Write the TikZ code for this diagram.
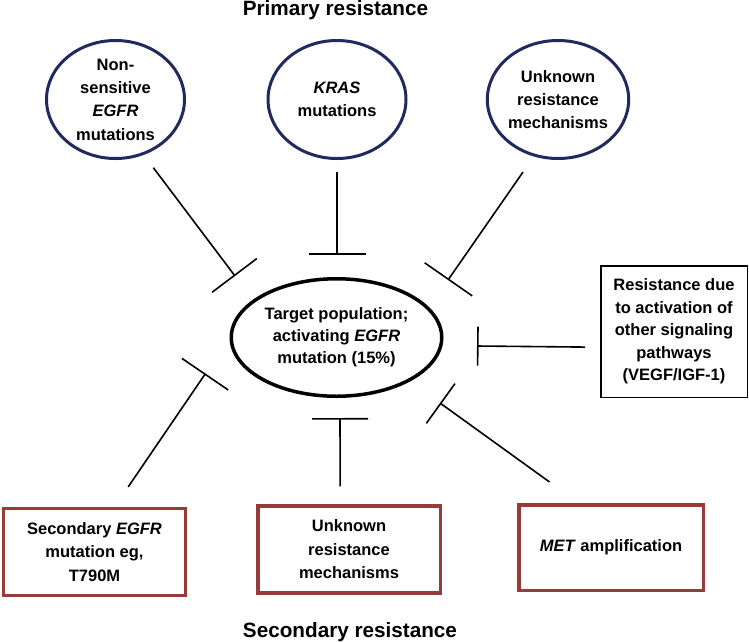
\documentclass[tikz,border=0pt]{standalone}
\usepackage{fontspec}
\setmainfont{Liberation Sans}
\usetikzlibrary{
  arrows.meta,
  shapes.geometric,
  positioning
}
\definecolor{primblue}{RGB}{32,42,94}
\definecolor{secred}{RGB}{152,58,58}

\begin{document}
\begin{tikzpicture}[
      x=1pt,y=-1pt,
      primary/.style={
         ellipse,
         minimum width=138pt,
         minimum height=118pt,
         inner sep=0pt,
         line width=3pt,
         draw=primblue,
         align=center,
         font=\bfseries\fontsize{16.5}{23.3}\selectfont
      },
      target/.style={
         ellipse,
         minimum width=210.5pt,
         minimum height=117.5pt,
         inner sep=0pt,
         line width=3.5pt,
         draw=black,
         align=center,
         font=\bfseries\fontsize{16.5}{22}\selectfont
      },
      secondary/.style={
         rectangle,
         minimum width=182pt,
         minimum height=87pt,
         inner sep=0pt,
         line width=3.5pt,
         draw=secred,
         align=center,
         font=\bfseries\fontsize{16.5}{23.5}\selectfont
      },
      other/.style={
         rectangle,
         minimum width=146.5pt,
         minimum height=131.5pt,
         inner sep=0pt,
         line width=1.5pt,
         draw=black,
         align=center,
         font=\bfseries\fontsize{16.5}{22.5}\selectfont
      },
      heading/.style={anchor=base,font=\bfseries\fontsize{20.7}{24}\selectfont},
      point/.style={coordinate},
      tip/.style={line width=1.6pt,-{Bar[width=#1]}},
      tip/.default=56pt
    ]
    \useasboundingbox (0,0) rectangle (749,641);

    % primary resistance
    \node (t1) [heading] at (335.5,15) {Primary resistance};
    \node (n11) [primary] at (115.5,99.5) {Non-\\sensitive\\\textit{EGFR}\\mutations};
    \node (n12) [primary] at (337,99.5) {\textit{KRAS}\\mutations};
    \node (n13) [primary] at (558,99.5) {Unknown\\resistance\\mechanisms};

    % target
    \node (n22) [target] at (336.5,337.5) {Target population;\\activating \textit{EGFR}\\mutation (15\%)};
    \node (n23) [other] at (674,331.5) {Resistance due\\to activation of\\other signaling\\pathways\\(VEGF/IGF-1)};

    % secondary resistance
    \node (n31) [secondary] at (94.5,552) {Secondary \textit{EGFR}\\mutation eg,\\T790M};
    \node (n32) [secondary, minimum width=182.5pt] at (349,549.5) {Unknown\\resistance\\mechanisms};
    \node (n33) [secondary, minimum width=184.5pt, minimum height=85.5pt] at (611,547.5) {\textit{MET} amplification};
    \node (t2) [heading] at (350,637) {Secondary resistance};

    \node (b1) [point] at (235,276) {};
    \node (b2) [point] at (337,255) {};
    \node (b3) [point] at (448,280) {};
    \node (b4) [point] at (477,346) {};
    \node (b5) [point] at (205.5,373.5) {};
    \node (b6) [point] at (340,418) {};
    \node (b7) [point] at (440,403) {};

    \draw[tip, shorten <=16pt] (n11.-63.5) -- (b1);
    \draw[tip=57pt, shorten <=12pt] (n12.south) -- (b2);
    \draw[tip=58pt, shorten <=19pt] (n13.-113) -- (b3);
    \draw[tip=39pt, shorten <=15pt] (n23.-168.9) -- (b4);
    \draw[tip, shorten <=24pt] (n31.66.25) -- (b5);
    \draw[tip, shorten <=18pt] (n32.101.2) -- (b6);
    \draw[tip=49pt, shorten <=36pt] (n33.126.6) -- (b7);
\end{tikzpicture}
\end{document}
